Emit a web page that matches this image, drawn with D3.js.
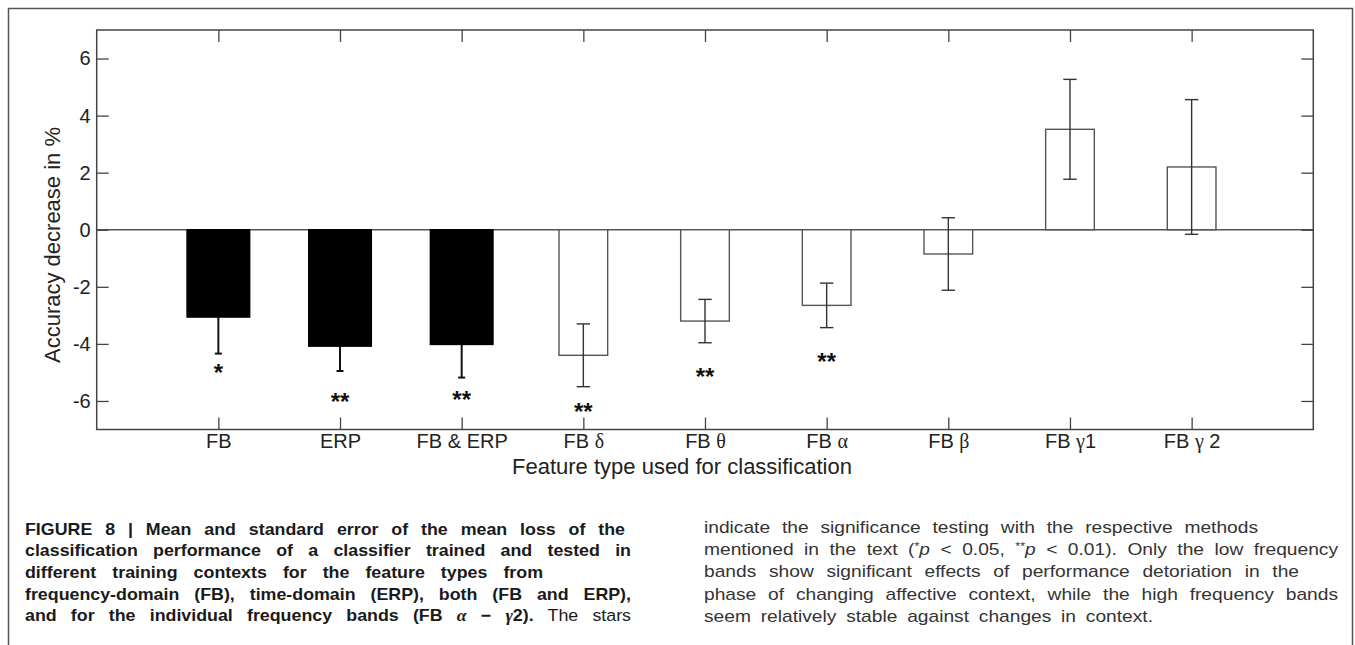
<!DOCTYPE html>
<html>
<head>
<meta charset="utf-8">
<script src="https://cdn.jsdelivr.net/npm/d3@7"></script>
<style>
  html, body { margin: 0; padding: 0; background: #fff; }
  svg { display: block; }
</style>
</head>
<body>
<svg id="chart" width="1355" height="645"></svg>
<script>
// ---------------- data ----------------
const categories = ["FB", "ERP", "FB & ERP", "FB δ", "FB θ", "FB α", "FB β", "FB γ1", "FB γ 2"];
const means      = [-3.06, -4.08, -4.02, -4.40, -3.20, -2.65, -0.85, 3.52, 2.20];
const sem        = [1.28, 0.87, 1.16, 1.10, 0.76, 0.78, 1.27, 1.75, 2.36];
const filled     = [true, true, true, false, false, false, false, false, false];
const stars      = ["*", "**", "**", "**", "**", "**", "", "", ""];
const starLevel  = [-4.82, -5.83, -5.76, -6.19, -4.95, -4.42, null, null, null];
const yTicks     = [-6, -4, -2, 0, 2, 4, 6];
const yDomain    = [-7, 7];
const yLabel     = "Accuracy decrease in %";
const xLabel     = "Feature type used for classification";

// ---------------- layout ----------------
const svg = d3.select("#chart");
const plot = { left: 96.7, right: 1313.3, top: 30, bottom: 429.5 };
const step = (plot.right - plot.left) / (categories.length + 1);
const axisColor = "#444";
const sans = "Arial, 'Liberation Sans', Helvetica, sans-serif";
const serif = "'Liberation Serif', 'Times New Roman', serif";

const x = d3.scaleBand().domain(categories)
  .range([plot.left + step / 2, plot.right - step / 2]).paddingInner(0).paddingOuter(0);
const cx = c => x(c) + x.bandwidth() / 2;
const y = d3.scaleLinear().domain(yDomain).range([plot.bottom, plot.top]);

// outer frame (open at bottom)
svg.append("path")
  .attr("d", `M8.5,650 L8.5,8.5 L1352.5,8.5 L1352.5,650`)
  .attr("fill", "none").attr("stroke", "#555").attr("stroke-width", 1.5);

// zero line
svg.append("line")
  .attr("x1", plot.left).attr("x2", plot.right)
  .attr("y1", y(0)).attr("y2", y(0))
  .attr("stroke", "#555").attr("stroke-width", 1.3);

const data = categories.map((c, i) => ({ c, m: means[i], s: sem[i], f: filled[i], st: stars[i], sl: starLevel[i] }));

function drawErrors(sel) {
  const eb = svg.append("g").selectAll("g").data(sel).join("g")
    .attr("stroke", d => d.f ? "#111" : "#333")
    .attr("stroke-width", d => d.f ? 2 : 1.4);
  const cap = d => d.f ? 3.5 : 6.7;
  eb.append("line")
    .attr("x1", d => cx(d.c)).attr("x2", d => cx(d.c))
    .attr("y1", d => y(d.m + d.s)).attr("y2", d => y(d.m - d.s));
  eb.append("line")
    .attr("x1", d => cx(d.c) - cap(d)).attr("x2", d => cx(d.c) + cap(d))
    .attr("y1", d => y(d.m - d.s)).attr("y2", d => y(d.m - d.s));
  eb.append("line")
    .attr("x1", d => cx(d.c) - cap(d)).attr("x2", d => cx(d.c) + cap(d))
    .attr("y1", d => y(d.m + d.s)).attr("y2", d => y(d.m + d.s));
}

// error bars of filled bars first (upper half hidden by the bar)
drawErrors(data.filter(d => d.f));

// bars
svg.append("g").selectAll("rect").data(data).join("rect")
  .attr("x", d => cx(d.c) - (d.f ? 0.515 : 0.4) * step / 2)
  .attr("width", d => (d.f ? 0.515 : 0.4) * step)
  .attr("y", d => y(Math.max(0, d.m)))
  .attr("height", d => Math.abs(y(d.m) - y(0)))
  .attr("fill", d => d.f ? "#000" : "#fff")
  .attr("stroke", d => d.f ? "#000" : "#555")
  .attr("stroke-width", 1.4);

drawErrors(data.filter(d => !d.f));

// significance stars
const starFs = 24;
svg.append("g").selectAll("text").data(data.filter(d => d.st)).join("text")
  .attr("x", d => cx(d.c))
  .attr("y", d => y(d.sl) + starFs * 0.57)
  .attr("text-anchor", "middle")
  .attr("font-family", sans).attr("font-weight", "bold").attr("font-size", starFs)
  .attr("fill", "#111")
  .text(d => d.st);

// axes
function styleAxis(g) {
  g.select(".domain").remove();
  g.selectAll(".tick line").attr("stroke", axisColor).attr("stroke-width", 1.3);
  g.selectAll(".tick text").attr("fill", "#222");
}
const fmt = d => String(d);
svg.append("g").attr("transform", `translate(${plot.left},0)`)
  .call(d3.axisLeft(y).tickValues(yTicks).tickFormat(fmt).tickSizeInner(-12).tickSizeOuter(0).tickPadding(6))
  .call(styleAxis)
  .call(g => g.selectAll(".tick text").attr("font-family", sans).attr("font-size", 20));
svg.append("g").attr("transform", `translate(${plot.right},0)`)
  .call(d3.axisRight(y).tickValues(yTicks).tickFormat("").tickSizeInner(-12).tickSizeOuter(0))
  .call(styleAxis);
const xPoint = d3.scalePoint().domain(categories).range([cx(categories[0]), cx(categories[categories.length - 1])]);
svg.append("g").attr("transform", `translate(0,${plot.top})`)
  .call(d3.axisTop(xPoint).tickFormat("").tickSizeInner(-12).tickSizeOuter(0))
  .call(styleAxis);
const xAxisG = svg.append("g").attr("transform", `translate(0,${plot.bottom})`)
  .call(d3.axisBottom(xPoint).tickSizeInner(-12).tickSizeOuter(0).tickPadding(4))
  .call(styleAxis);
xAxisG.selectAll(".tick text").each(function(d) {
  const t = d3.select(this).text(null).attr("font-family", sans).attr("font-size", 20);
  const parts = d.split(/([α-ω])/);
  parts.forEach(p => {
    if (!p) return;
    const isGreek = /^[α-ω]$/.test(p);
    t.append("tspan").attr("font-family", isGreek ? serif : sans).text(p);
  });
});

// box
svg.append("rect")
  .attr("x", plot.left).attr("y", plot.top)
  .attr("width", plot.right - plot.left).attr("height", plot.bottom - plot.top)
  .attr("fill", "none").attr("stroke", axisColor).attr("stroke-width", 1.5);

// axis titles
svg.append("text")
  .attr("transform", `translate(60,245) rotate(-90)`)
  .attr("text-anchor", "middle")
  .attr("font-family", sans).attr("font-size", 22).attr("fill", "#222")
  .text(yLabel);
svg.append("text")
  .attr("x", 682).attr("y", 474)
  .attr("text-anchor", "middle")
  .attr("font-family", sans).attr("font-size", 22).attr("fill", "#222")
  .text(xLabel);

// ---------------- caption ----------------
function captionLine(x0, x1, yb, segs, color, fs, sx) {
  const t = svg.append("text")
    .attr("transform", `translate(${x0},${yb}) scale(${sx},1)`)
    .attr("font-family", sans).attr("font-size", fs).attr("fill", color);
  let spaces = 0;
  segs.forEach(s => {
    const ts = t.append("tspan").text(s.t);
    if (s.b) ts.attr("font-weight", "bold");
    if (s.i) ts.attr("font-style", "italic");
    if (s.serif) ts.attr("font-family", serif);
    if (s.sup) ts.attr("font-size", fs * 0.65).attr("dy", -5);
    if (s.unsup) ts.attr("dy", 5);
    if (s.light) ts.attr("font-weight", "normal");
    spaces += (s.t.match(/ /g) || []).length;
  });
  const natural = t.node().getComputedTextLength();
  if (x1 && spaces > 0) {
    const ws = ((x1 - x0) / sx - natural) / spaces;
    t.attr("word-spacing", ws);
  }
  return t;
}
const B = true;
const leftLines = [
  { end: 625, segs: [{ t: "FIGURE 8 | Mean and standard error of the mean loss of the", b: B }] },
  { end: 631, segs: [{ t: "classification performance of a classifier trained and tested in", b: B }] },
  { end: 543, segs: [{ t: "different training contexts for the feature types from", b: B }] },
  { end: 631, segs: [{ t: "frequency-domain (FB), time-domain (ERP), both (FB and ERP),", b: B }] },
  { end: 631, segs: [
    { t: "and for the individual frequency bands (FB ", b: B },
    { t: "α", b: B, i: true, serif: true },
    { t: " − ", b: B },
    { t: "γ", b: B, i: true, serif: true },
    { t: "2).", b: B },
    { t: " The stars", light: true }
  ] }
];
const leftBase = [534.5, 556.2, 577.9, 599.6, 621.3];
leftLines.forEach((l, i) => captionLine(25, l.end, leftBase[i], l.segs, "#1a1a1a", 16.5, 1.08));

const rightLines = [
  { end: 1258, segs: [{ t: "indicate the significance testing with the respective methods" }] },
  { end: 1338, segs: [
    { t: "mentioned in the text (" },
    { t: "*", sup: true },
    { t: "p", i: true, unsup: true },
    { t: " < 0.05, " },
    { t: "**", sup: true },
    { t: "p", i: true, unsup: true },
    { t: " < 0.01). Only the low frequency" }
  ] },
  { end: 1299, segs: [{ t: "bands show significant effects of performance detoriation in the" }] },
  { end: 1338, segs: [{ t: "phase of changing affective context, while the high frequency bands" }] },
  { end: 1153, segs: [{ t: "seem relatively stable against changes in context." }] }
];
const rightBase = [532.5, 554.9, 577.3, 599.7, 622.1];
rightLines.forEach((l, i) => captionLine(704, l.end, rightBase[i], l.segs, "#333", 16, 1.2));
</script>
</body>
</html>
